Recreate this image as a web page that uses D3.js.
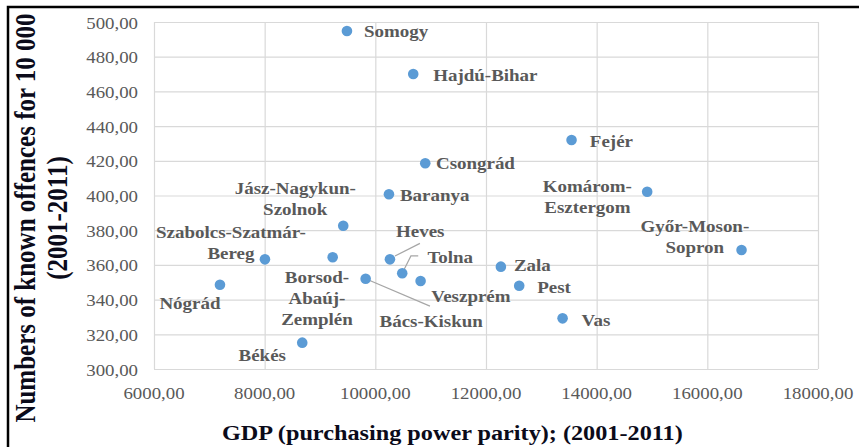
<!DOCTYPE html>
<html>
<head>
<meta charset="utf-8">
<script src="https://cdn.jsdelivr.net/npm/d3@7"></script>
<style>
  html, body { margin: 0; padding: 0; background: #fff; }
  svg { display: block; }
  svg text { font-family: "Liberation Serif", "Times New Roman", Tinos, "DejaVu Serif", serif; }
</style>
</head>
<body>
<svg id="chart" width="859" height="447"></svg>
<script>
// ---------------- data ----------------
const counties = ["Somogy", "Hajdú-Bihar", "Fejér", "Csongrád", "Komárom-Esztergom", "Baranya",
  "Jász-Nagykun-Szolnok", "Győr-Moson-Sopron", "Szabolcs-Szatmár-Bereg", "Borsod-Abaúj-Zemplén",
  "Heves", "Tolna", "Veszprém", "Bács-Kiskun", "Zala", "Pest", "Vas", "Nógrád", "Békés"];
const gdpValues = [9487, 10685, 13546, 10902, 14913, 10246, 9420, 16618, 8005, 9229,
  10264, 10486, 10818, 9825, 12269, 12600, 13384, 7192, 8679];
const offenceValues = [494.8, 470.0, 432.0, 418.6, 402.2, 400.7, 382.6, 368.6, 363.2, 364.4,
  363.2, 355.2, 350.7, 352.0, 359.0, 348.0, 329.2, 348.6, 315.2];
const xTicks = [6000, 8000, 10000, 12000, 14000, 16000, 18000];
const yTicks = [300, 320, 340, 360, 380, 400, 420, 440, 460, 480, 500];
const xTitle = "GDP (purchasing power parity); (2001-2011)";
const yTitleLines = ["Numbers of known offences for 10 000", "(2001-2011)"];

// ------------- label layout (offsets relative to each point, px) -------------
const labelLayout = {
  "Somogy": {anchor: "start", dx: 17, dy: 6.3, lines: ["Somogy"]},
  "Hajdú-Bihar": {anchor: "start", dx: 20, dy: 6.5, lines: ["Hajdú-Bihar"]},
  "Fejér": {anchor: "start", dx: 18.3, dy: 7, lines: ["Fejér"]},
  "Csongrád": {anchor: "start", dx: 10.7, dy: 6, lines: ["Csongrád"]},
  "Komárom-Esztergom": {anchor: "middle", dx: -59.8, dy: 0, lines: ["Komárom-", "Esztergom"]},
  "Baranya": {anchor: "start", dx: 11, dy: 6.7, lines: ["Baranya"]},
  "Jász-Nagykun-Szolnok": {anchor: "middle", dx: -48, dy: -31.7, lines: ["Jász-Nagykun-", "Szolnok"]},
  "Győr-Moson-Sopron": {anchor: "middle", dx: -46.7, dy: -18.3, lines: ["Győr-Moson-", "Sopron"]},
  "Szabolcs-Szatmár-Bereg": {anchor: "middle", dx: -34, dy: -21, lines: ["Szabolcs-Szatmár-", "Bereg"]},
  "Borsod-Abaúj-Zemplén": {anchor: "middle", dx: -15.7, dy: 26, lines: ["Borsod-", "Abaúj-", "Zemplén"]},
  "Heves": {anchor: "middle", dx: 30.3, dy: -22, lines: ["Heves"], leader: [[5, -3.3], [30, -16]]},
  "Tolna": {anchor: "middle", dx: 48, dy: -10, lines: ["Tolna"], leader: [[2, -4], [8.7, -17.3], [16, -17.3]]},
  "Veszprém": {anchor: "middle", dx: 50.3, dy: 20.7, lines: ["Veszprém"]},
  "Bács-Kiskun": {anchor: "middle", dx: 65.5, dy: 48.6, lines: ["Bács-Kiskun"], leader: [[0, 0], [64.3, 27.3]]},
  "Zala": {anchor: "start", dx: 13, dy: 4, lines: ["Zala"]},
  "Pest": {anchor: "start", dx: 18, dy: 7.6, lines: ["Pest"]},
  "Vas": {anchor: "start", dx: 19, dy: 7.7, lines: ["Vas"]},
  "Nógrád": {anchor: "middle", dx: -30, dy: 24.3, lines: ["Nógrád"]},
  "Békés": {anchor: "middle", dx: -40, dy: 18.6, lines: ["Békés"]}
};

// ---------------- drawing ----------------
const SX = 1.2;               // horizontal stretch of the reference picture
const svg = d3.select("#chart");

const plot = {left: 154, right: 818, top: 22, bottom: 369};
const x = d3.scaleLinear().domain([6000, 18000]).range([plot.left, plot.right]);
const y = d3.scaleLinear().domain([300, 500]).range([plot.bottom, plot.top]);

// outer frame
svg.append("rect").attr("x", 8).attr("y", 7).attr("width", 1000).attr("height", 1000)
  .attr("fill", "none").attr("stroke", "#000").attr("stroke-width", 2.5);

// gridlines via axes
const gx = svg.append("g").attr("transform", `translate(0,${plot.bottom})`)
  .call(d3.axisBottom(x).tickValues(xTicks).tickSize(-(plot.bottom - plot.top)).tickFormat(""));
const gy = svg.append("g").attr("transform", `translate(${plot.left},0)`)
  .call(d3.axisLeft(y).tickValues(yTicks).tickSize(-(plot.right - plot.left)).tickFormat(""));
[gx, gy].forEach(g => {
  g.select(".domain").remove();
  g.selectAll(".tick line").attr("stroke", "#d9d9d9").attr("stroke-width", 1.2);
});

const fmt = v => d3.format(".2f")(v).replace(".", ",");

function stretched(parent, tx, ty, lines, o) {
  const g = parent.append("g").attr("transform", `translate(${tx},${ty}) scale(${SX},1)`);
  const t = g.append("text")
    .attr("text-anchor", o.anchor || "start")
    .style("font-size", o.size + "px")
    .style("font-weight", o.weight || "normal")
    .attr("fill", o.fill);
  lines.forEach((ln, i) => {
    t.append("tspan").attr("x", 0).attr("y", i * (o.lh || 0)).text(ln);
  });
  return g;
}

// tick labels
xTicks.forEach(v => stretched(svg, x(v), 399, [fmt(v)], {anchor: "middle", size: 15.7, fill: "#595959"}));
yTicks.forEach(v => stretched(svg, 138, y(v) + 6.5, [fmt(v)], {anchor: "end", size: 15.7, fill: "#595959"}));

// axis titles
stretched(svg, 222, 439.5, [xTitle], {anchor: "start", size: 20.2, weight: "bold", fill: "#0b0b1a"});
const yt = svg.append("g").attr("transform", `translate(35,218) scale(${SX},1) rotate(-90)`);
const ytt = yt.append("text").attr("text-anchor", "middle")
  .style("font-size", "25px").style("font-weight", "bold").attr("fill", "#0b0b1a");
yTitleLines.forEach((ln, i) => ytt.append("tspan").attr("x", 0).attr("y", i * 26.7).text(ln));

// data
const data = counties.map((c, i) => ({name: c, gdp: gdpValues[i], off: offenceValues[i]}));

// leader lines
const line = d3.line();
data.forEach(d => {
  const L = labelLayout[d.name];
  if (L && L.leader) {
    svg.append("path")
      .attr("d", line(L.leader.map(p => [x(d.gdp) + p[0], y(d.off) + p[1]])))
      .attr("fill", "none").attr("stroke", "#a6a6a6").attr("stroke-width", 1.2);
  }
});

// points
svg.append("g").selectAll("circle").data(data).join("circle")
  .attr("cx", d => x(d.gdp)).attr("cy", d => y(d.off)).attr("r", 5.3)
  .attr("fill", "#5b9bd5");

// labels
data.forEach(d => {
  const L = labelLayout[d.name];
  stretched(svg, x(d.gdp) + L.dx, y(d.off) + L.dy, L.lines,
    {anchor: L.anchor, size: 15.8, weight: "bold", fill: "#595959", lh: 21});
});
</script>
</body>
</html>
